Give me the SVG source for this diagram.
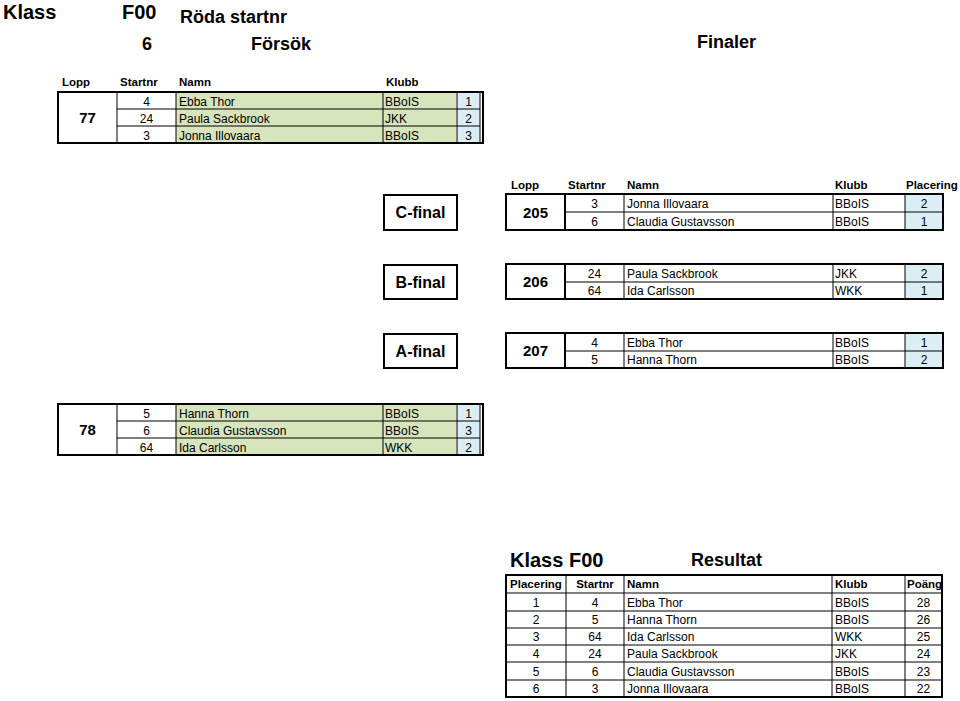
<svg xmlns="http://www.w3.org/2000/svg" width="960" height="701" viewBox="0 0 960 701">
<style>
text{font-family:"Liberation Sans",Arial,sans-serif;fill:#000}
.t{font-size:12px}
.h{font-size:11.5px;font-weight:bold}
.c{text-anchor:middle}
.big{font-size:20px;font-weight:bold}
.mid{font-size:18px;font-weight:bold}
.lbl{font-size:16px;font-weight:bold;text-anchor:middle}
.num{font-size:15px;font-weight:bold;text-anchor:middle}
.g{fill:#d8e4bc}
.b{fill:#dbeef4}
.ln{stroke:#000;stroke-width:1;fill:none}
.thk{stroke:#000;stroke-width:2;fill:none}
</style>

<g id="header">
<text class="big" x="3" y="19">Klass</text>
<text class="big" x="122" y="19">F00</text>
<text class="mid" x="180" y="23">Röda startnr</text>
<text class="mid" x="142" y="50">6</text>
<text class="mid" x="251" y="50">Försök</text>
<text class="mid" x="697" y="48">Finaler</text>
</g>

<g id="heat77">
<text class="h" x="62" y="86">Lopp</text>
<text class="h" x="120" y="86">Startnr</text>
<text class="h" x="179" y="86">Namn</text>
<text class="h" x="386" y="86">Klubb</text>
<rect class="g" x="176" y="92" width="280" height="51"/>
<rect class="b" x="457" y="92" width="23" height="51"/>
<path class="ln" d="M117 92V143M176 92V143M383 92V143M457 92V143M480 92V143M117 109H480M117 126H480"/>
<rect class="thk" x="58" y="92" width="425" height="51"/>
<text class="num" x="87.5" y="123">77</text>
<text class="t c" x="146.5" y="105.5">4</text>
<text class="t c" x="146.5" y="122.5">24</text>
<text class="t c" x="146.5" y="139.5">3</text>
<text class="t" x="179" y="105.5">Ebba Thor</text>
<text class="t" x="179" y="122.5">Paula Sackbrook</text>
<text class="t" x="179" y="139.5">Jonna Illovaara</text>
<text class="t" x="385" y="105.5">BBoIS</text>
<text class="t" x="385" y="122.5">JKK</text>
<text class="t" x="385" y="139.5">BBoIS</text>
<text class="t c" x="468.5" y="105.5">1</text>
<text class="t c" x="468.5" y="122.5">2</text>
<text class="t c" x="468.5" y="139.5">3</text>
</g>

<g id="cfinal">
<text class="h" x="511" y="189">Lopp</text>
<text class="h" x="568" y="189">Startnr</text>
<text class="h" x="627" y="189">Namn</text>
<text class="h" x="835" y="189">Klubb</text>
<text class="h" x="906" y="189">Placering</text>
<rect class="thk" x="384" y="195" width="73" height="35"/>
<text class="lbl" x="420.5" y="218">C-final</text>
<rect class="b" x="905" y="194" width="38" height="36"/>
<path class="ln" d="M624 194V230M833 194V230M905 194V230M565 212H943"/>
<path class="thk" d="M565 194V230"/>
<rect class="thk" x="506" y="194" width="437" height="36"/>
<text class="num" x="535.5" y="218">205</text>
<text class="t c" x="594.5" y="207.5">3</text>
<text class="t c" x="594.5" y="225.5">6</text>
<text class="t" x="627" y="207.5">Jonna Illovaara</text>
<text class="t" x="627" y="225.5">Claudia Gustavsson</text>
<text class="t" x="835" y="207.5">BBoIS</text>
<text class="t" x="835" y="225.5">BBoIS</text>
<text class="t c" x="924" y="207.5">2</text>
<text class="t c" x="924" y="225.5">1</text>
</g>

<g id="bfinal">
<rect class="thk" x="384" y="265" width="73" height="34"/>
<text class="lbl" x="420.5" y="287.5">B-final</text>
<rect class="b" x="905" y="264" width="38" height="35"/>
<path class="ln" d="M624 264V299M833 264V299M905 264V299M565 282H943"/>
<path class="thk" d="M565 264V299"/>
<rect class="thk" x="506" y="264" width="437" height="35"/>
<text class="num" x="535.5" y="287">206</text>
<text class="t c" x="594.5" y="277.5">24</text>
<text class="t c" x="594.5" y="295">64</text>
<text class="t" x="627" y="277.5">Paula Sackbrook</text>
<text class="t" x="627" y="295">Ida Carlsson</text>
<text class="t" x="835" y="277.5">JKK</text>
<text class="t" x="835" y="295">WKK</text>
<text class="t c" x="924" y="277.5">2</text>
<text class="t c" x="924" y="295">1</text>
</g>

<g id="afinal">
<rect class="thk" x="384" y="334" width="73" height="34"/>
<text class="lbl" x="420.5" y="356.5">A-final</text>
<rect class="b" x="905" y="333" width="38" height="35"/>
<path class="ln" d="M624 333V368M833 333V368M905 333V368M565 351H943"/>
<path class="thk" d="M565 333V368"/>
<rect class="thk" x="506" y="333" width="437" height="35"/>
<text class="num" x="535.5" y="356">207</text>
<text class="t c" x="594.5" y="346.5">4</text>
<text class="t c" x="594.5" y="364">5</text>
<text class="t" x="627" y="346.5">Ebba Thor</text>
<text class="t" x="627" y="364">Hanna Thorn</text>
<text class="t" x="835" y="346.5">BBoIS</text>
<text class="t" x="835" y="364">BBoIS</text>
<text class="t c" x="924" y="346.5">1</text>
<text class="t c" x="924" y="364">2</text>
</g>

<g id="heat78">
<rect class="g" x="176" y="404" width="280" height="51"/>
<rect class="b" x="457" y="404" width="23" height="51"/>
<path class="ln" d="M117 404V455M176 404V455M383 404V455M457 404V455M480 404V455M117 421H480M117 438H480"/>
<rect class="thk" x="58" y="404" width="425" height="51"/>
<text class="num" x="87.5" y="435">78</text>
<text class="t c" x="146.5" y="417.5">5</text>
<text class="t c" x="146.5" y="434.5">6</text>
<text class="t c" x="146.5" y="451.5">64</text>
<text class="t" x="179" y="417.5">Hanna Thorn</text>
<text class="t" x="179" y="434.5">Claudia Gustavsson</text>
<text class="t" x="179" y="451.5">Ida Carlsson</text>
<text class="t" x="385" y="417.5">BBoIS</text>
<text class="t" x="385" y="434.5">BBoIS</text>
<text class="t" x="385" y="451.5">WKK</text>
<text class="t c" x="468.5" y="417.5">1</text>
<text class="t c" x="468.5" y="434.5">3</text>
<text class="t c" x="468.5" y="451.5">2</text>
</g>

<g id="results">
<text class="big" x="510" y="567">Klass</text>
<text class="big" x="569" y="567">F00</text>
<text class="mid" x="691" y="566">Resultat</text>
<path class="ln" d="M566 575V697M624 575V697M832 575V697M905 575V697M506 593H942M506 611H942M506 628H942M506 645H942M506 662H942M506 680H942"/>
<rect class="thk" x="506" y="575" width="436" height="122"/>
<text class="h c" x="536" y="588">Placering</text>
<text class="h c" x="595" y="588">Startnr</text>
<text class="h" x="627" y="588">Namn</text>
<text class="h" x="835" y="588">Klubb</text>
<text class="h" x="907" y="588">Poäng</text>
<text class="t c" x="536" y="606.5">1</text>
<text class="t c" x="536" y="624">2</text>
<text class="t c" x="536" y="641">3</text>
<text class="t c" x="536" y="658">4</text>
<text class="t c" x="536" y="675.5">5</text>
<text class="t c" x="536" y="693">6</text>
<text class="t c" x="595" y="606.5">4</text>
<text class="t c" x="595" y="624">5</text>
<text class="t c" x="595" y="641">64</text>
<text class="t c" x="595" y="658">24</text>
<text class="t c" x="595" y="675.5">6</text>
<text class="t c" x="595" y="693">3</text>
<text class="t" x="627" y="606.5">Ebba Thor</text>
<text class="t" x="627" y="624">Hanna Thorn</text>
<text class="t" x="627" y="641">Ida Carlsson</text>
<text class="t" x="627" y="658">Paula Sackbrook</text>
<text class="t" x="627" y="675.5">Claudia Gustavsson</text>
<text class="t" x="627" y="693">Jonna Illovaara</text>
<text class="t" x="835" y="606.5">BBoIS</text>
<text class="t" x="835" y="624">BBoIS</text>
<text class="t" x="835" y="641">WKK</text>
<text class="t" x="835" y="658">JKK</text>
<text class="t" x="835" y="675.5">BBoIS</text>
<text class="t" x="835" y="693">BBoIS</text>
<text class="t c" x="923.5" y="606.5">28</text>
<text class="t c" x="923.5" y="624">26</text>
<text class="t c" x="923.5" y="641">25</text>
<text class="t c" x="923.5" y="658">24</text>
<text class="t c" x="923.5" y="675.5">23</text>
<text class="t c" x="923.5" y="693">22</text>
</g>
</svg>
